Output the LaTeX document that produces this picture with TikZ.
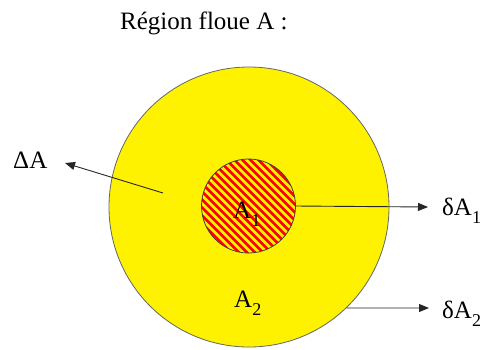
\documentclass[tikz,border=0pt]{standalone}
\usepackage{fontspec}
\setmainfont{Liberation Serif}
\usetikzlibrary{arrows.meta,calc}
\newcommand{\sbx}[1]{\raisebox{-0.32em}{\fontsize{18}{20}\selectfont #1}}
\begin{document}
\begin{tikzpicture}[x=1pt,y=-1pt,
  lbl/.style={font=\fontsize{25}{29}\selectfont, inner sep=0pt},
  arr/.style={draw=black!85, line width=0.9pt, -{Triangle[length=10pt,width=8pt]}},
  stripe/.style={red, line width=2.8pt}]
\useasboundingbox (0,0) rectangle (486,349);
\node[draw=black!60, line width=0.8pt, fill=yellow, circle, minimum size=280pt, inner sep=0pt] (big) at (249,207) {};
\coordinate (c1) at (248.5,206);
\begin{scope}
  \clip (c1) circle (47);
  \foreach \k in {-15,...,15} \draw[stripe] ($(c1)+(8*\k-60,-60)$) -- ++(120,120);
\end{scope}
\node[draw=black!75, line width=0.8pt, circle, minimum size=94pt, inner sep=0pt] (small) at (c1) {};
\node[lbl, anchor=base west] (title) at (120,29) {Région floue A :};
\node[lbl, anchor=base west] (A1) at (233,218) {A\sbx{1}};
\node[lbl, anchor=base west] (A2) at (234,307) {A\sbx{2}};
\node[lbl, anchor=base west] (DA) at (13,168) {ΔA};
\node[lbl, anchor=base west] (dA1) at (442,215) {δA\sbx{1}};
\node[lbl, anchor=base west] (dA2) at (442,318) {δA\sbx{2}};
\coordinate (s0) at (163,193);
\coordinate (t0) at (65,163);
\coordinate (t1) at (428,207);
\coordinate (t2) at (429,308);
\draw[arr] (s0) -- (t0);
\draw[arr] (small.east) -- (t1);
\draw[arr] (big.-46.2) -- (t2);
\end{tikzpicture}
\end{document}
